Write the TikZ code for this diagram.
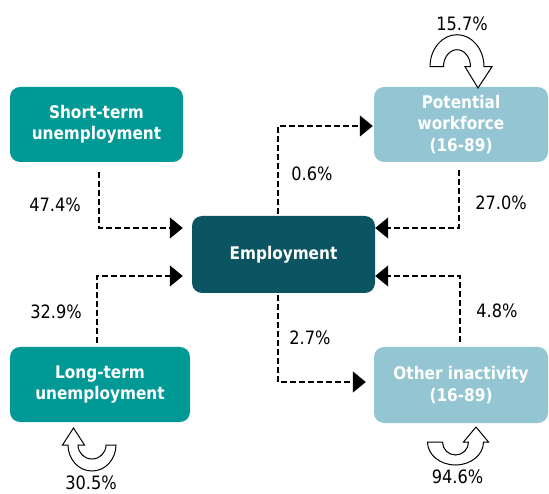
\documentclass[tikz,border=0pt]{standalone}
\usepackage{fontspec}
\setmainfont{DejaVu Sans}[FakeStretch=0.88]
\usepackage{xcolor}
\usetikzlibrary{positioning, calc, arrows.meta}
\definecolor{unempteal}{RGB}{0,153,150}
\definecolor{empdark}{RGB}{11,85,99}
\definecolor{inactblue}{RGB}{147,198,210}

\begin{document}
\begin{tikzpicture}[x=1pt, y=1pt,
	statebox/.style={rounded corners=10pt, text=white, align=center, inner sep=0pt,
		minimum height=75pt, font=\fontsize{17.4}{21.5}\selectfont\bfseries},
	flow/.style={line width=1.3pt, dash pattern=on 5.5pt off 3.5pt,
		-{Triangle[length=13pt, width=21pt]}},
	pct/.style={font=\fontsize{18.4}{21}\selectfont},
	curl/.style={draw=black, fill=white, line width=1pt}]
				  \useasboundingbox (0,0) rectangle (549,493);
				  \node[statebox, fill=unempteal, minimum width=173pt] (stu) at (96.5,368.5) {Short-term\\unemployment};
				  \node[statebox, fill=unempteal, minimum width=180pt] (ltu) at (100,108.5) {Long-term\\unemployment};
				  \node[statebox, fill=empdark, minimum width=183pt, minimum height=77pt] (emp) at (283.5,238.5) {Employment};
				  \node[statebox, fill=inactblue, minimum width=174pt] (pot) at (461,368.5) {Potential\\workforce\\(16-89)};
				  \node[statebox, fill=inactblue, minimum width=174pt, minimum height=76pt] (oth) at (461,108) {Other inactivity\\(16-89)};
				  \draw[flow] ([xshift=2.5pt, yshift=-10pt]stu.south) |- ([xshift=-9pt, yshift=26.5pt]emp.west);
				  \draw[flow] ([xshift=-3pt, yshift=4pt]ltu.north) |- ([xshift=-9pt, yshift=-21.5pt]emp.west);
				  \draw[flow] ([xshift=-5.5pt, yshift=2pt]emp.north) |- ([xshift=-1pt, yshift=-1.5pt]pot.west);
				  \draw[flow] ([xshift=-5.5pt, yshift=-2pt]emp.south) |- ([xshift=-8pt, yshift=3pt]oth.west);
				  \draw[flow] ([xshift=-2pt, yshift=-8pt]pot.south) |- ([yshift=26.5pt]emp.east);
				  \draw[flow] ([xshift=-1pt, yshift=5pt]oth.north) |- ([yshift=-21.5pt]emp.east);
				  \node[pct] (stuemp) at (55,288) {47.4\%};
				  \node[pct] (ltuemp) at (56,181) {32.9\%};
				  \node[pct] (emppot) at (312,319) {0.6\%};
				  \node[pct] (empoth) at (310,155) {2.7\%};
				  \node[pct] (potemp) at (501,290) {27.0\%};
				  \node[pct] (othemp) at (497,182) {4.8\%};
				  \node[pct] (potpot) at (462,469) {15.7\%};
				  \node[pct] (ltultu) at (91,10) {30.5\%};
				  \node[pct] (othoth) at (457.5,16) {94.6\%};
				  \draw[curl] (430,426.3) arc[start angle=180, end angle=0, x radius=27, y radius=32]
					-- (492,426.3) -- (478,405) -- (465,426.3) -- (470.5,426.3)
					arc[start angle=0, end angle=180, x radius=13.5, y radius=17] -- cycle;
				  \draw[curl] (116,48) arc[start angle=0, end angle=-180, x radius=24, y radius=26]
					-- (62.5,48) -- (73.5,65) -- (84.5,48) -- (78,48)
					arc[start angle=180, end angle=360, x radius=14, y radius=14] -- cycle;
				  \draw[curl] (427.5,51) arc[start angle=180, end angle=360, x radius=28, y radius=23]
					-- (488.5,51) -- (476,66) -- (463.5,51) -- (468.5,51)
					arc[start angle=0, end angle=-180, x radius=13, y radius=13] -- cycle;
				\end{tikzpicture}
\end{document}
